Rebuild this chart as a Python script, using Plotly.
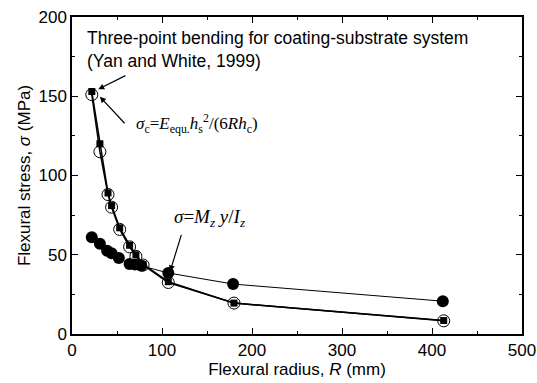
import plotly.graph_objects as go

# Data
R_sq = [22, 31, 40, 44, 53, 64, 71, 79, 107, 180, 413]
sq = [153, 120, 89, 81, 67, 56, 50, 44, 33, 19.5, 8.5]
R_oc = [22, 31, 40, 44, 53, 64, 71, 79, 107, 180, 413]
oc = [151, 115, 88, 80, 66, 55, 49, 43.5, 32.5, 19.5, 8.3]
R_fc = [22, 31, 39, 44, 52, 64, 70, 77, 107, 179, 412]
fc = [61, 57, 52.5, 51, 48, 44.2, 43.8, 43, 38.5, 31.5, 20.7]

sans = "Liberation Sans, Arial, sans-serif"
serif = "Liberation Serif, Times New Roman, serif"

fig = go.Figure()
fig.add_trace(go.Scatter(x=R_fc, y=fc, mode="lines+markers",
                         line=dict(color="black", width=1),
                         marker=dict(symbol="circle", size=12, color="black")))
fig.add_trace(go.Scatter(x=R_oc, y=oc, mode="lines+markers",
                         line=dict(color="black", width=1.5),
                         marker=dict(symbol="circle-open", size=12, color="black",
                                     line=dict(width=1))))
fig.add_trace(go.Scatter(x=R_sq, y=sq, mode="lines+markers",
                         line=dict(color="black", width=1.5),
                         marker=dict(symbol="square", size=7, color="black")))

axis_common = dict(showline=True, linecolor="black", linewidth=1.5, mirror="ticks",
                   ticks="inside", ticklen=6, tickwidth=1, tickcolor="black",
                   showgrid=False, zeroline=False, automargin=False,
                   tickfont=dict(family=sans, size=17, color="black"))

fig.update_xaxes(range=[0, 500], tick0=0, dtick=100,
                 minor=dict(dtick=50, ticks="inside", ticklen=3, tickcolor="black"),
                 title=dict(text="Flexural radius, <i>R</i> (mm)",
                            font=dict(family=sans, size=17, color="black"), standoff=2),
                 **axis_common)
fig.update_yaxes(range=[0, 200], tick0=0, dtick=50,
                 minor=dict(dtick=25, ticks="inside", ticklen=3, tickcolor="black"),
                 title=dict(text="Flexural stress, <i>σ</i> (MPa)",
                            font=dict(family=sans, size=17, color="black"), standoff=4),
                 **axis_common)

fig.add_annotation(x=0.028, y=0.972, xref="paper", yref="paper", xanchor="left", yanchor="top",
                   align="left", showarrow=False,
                   text="Three-point bending for coating-substrate system<br>(Yan and White, 1999)",
                   font=dict(family=sans, size=17.5, color="black"))
fig.add_annotation(x=29.2, y=154.4, ax=61, ay=163.5, xref="x", yref="y", axref="x", ayref="y",
                   showarrow=True, arrowhead=2, arrowsize=1, arrowwidth=1.2, arrowcolor="black", text="")
fig.add_annotation(x=31, y=149.7, ax=60, ay=132, xref="x", yref="y", axref="x", ayref="y",
                   showarrow=True, arrowhead=2, arrowsize=1, arrowwidth=1.2, arrowcolor="black", text="")
fig.add_annotation(x=109, y=39.5, ax=122, ay=63.5, xref="x", yref="y", axref="x", ayref="y",
                   showarrow=True, arrowhead=2, arrowsize=1, arrowwidth=1.2, arrowcolor="black", text="")

fig.add_annotation(x=69, y=132.5, xref="x", yref="y", xanchor="left", yanchor="middle", showarrow=False,
                   text="<i>σ</i><sub>c</sub>=<i>E</i><sub>equ.</sub><i>h</i><sub>s</sub><sup>2</sup>/(6<i>Rh</i><sub>c</sub>)",
                   font=dict(family=serif, size=17, color="black"))
fig.add_annotation(x=111, y=73, xref="x", yref="y", xanchor="left", yanchor="middle", showarrow=False,
                   text="<i>σ</i>=<i>M</i><sub><i>z</i></sub> <i>y</i>/<i>I</i><sub><i>z</i></sub>",
                   font=dict(family=serif, size=19, color="black"))

fig.update_layout(width=537, height=383, margin=dict(l=72, r=15, t=17, b=49),
                  plot_bgcolor="white", paper_bgcolor="white", showlegend=False)

fig.write_html("out.html", config={"displayModeBar": False},
               post_script="document.body.style.margin='0';")
